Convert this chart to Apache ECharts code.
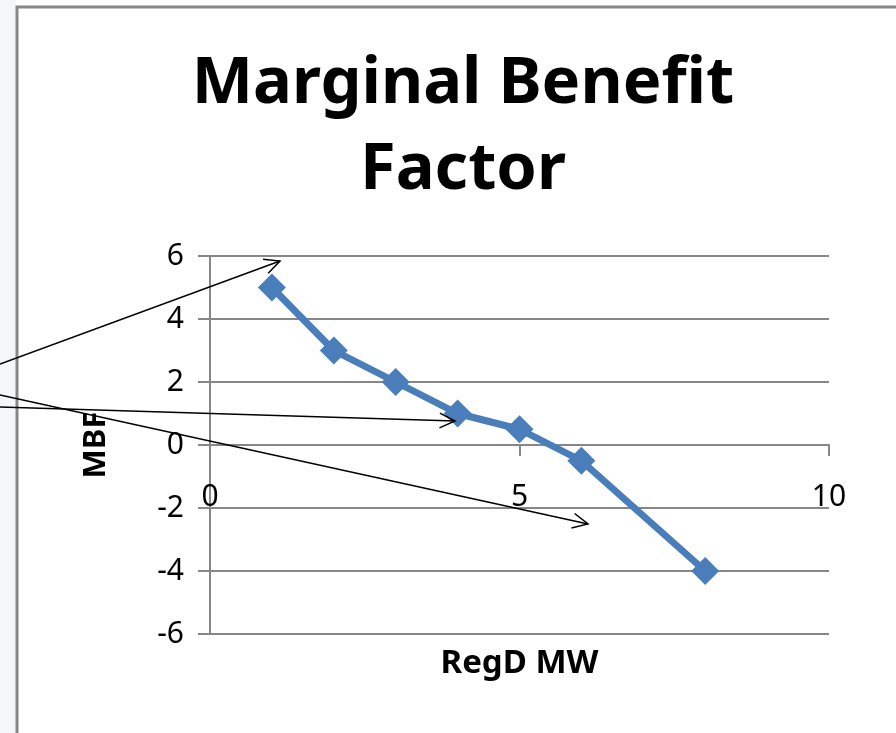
<!DOCTYPE html>
<html>
<head>
<meta charset="utf-8">
<script src="https://cdn.jsdelivr.net/npm/echarts@6/dist/echarts.min.js"></script>
<style>
  html, body { margin: 0; padding: 0; background: #fff; }
  #chart { width: 896px; height: 733px; }
</style>
</head>
<body>
<div id="chart"></div>
<script>
const regdMW = [1, 2, 3, 4, 5, 6, 8];
const mbf = [5, 3, 2, 1, 0.5, -0.5, -4];
const xTicks = [0, 5, 10];
const yTicks = [-6, -4, -2, 0, 2, 4, 6];

const chart = echarts.init(document.getElementById('chart'));
const gray = '#878787';
const font = 'Noto Sans, sans-serif';

// open arrow head helper for annotation lines
function arrow(x1, y1, x2, y2) {
  const a = Math.atan2(y2 - y1, x2 - x1);
  const L = 17, w = 0.45;
  return [
    { type: 'line', shape: { x1, y1, x2, y2 }, style: { stroke: '#000', lineWidth: 1.5 }, z: 100 },
    { type: 'polyline', shape: { points: [
      [x2 - L * Math.cos(a - w), y2 - L * Math.sin(a - w)],
      [x2, y2],
      [x2 - L * Math.cos(a + w), y2 - L * Math.sin(a + w)]
    ] }, style: { stroke: '#000', lineWidth: 1.5, fill: null }, z: 100 }
  ];
}

chart.setOption({
  backgroundColor: '#fff',
  animation: false,
  title: {
    text: 'Marginal Benefit\nFactor',
    left: 458,
    top: 36,
    textAlign: 'center',
    textStyle: { fontFamily: font, fontWeight: 'bold', fontSize: 65, lineHeight: 86, color: '#000' }
  },
  grid: { left: 210, right: 67, top: 256, bottom: 99, outerBoundsMode: 'none', containLabel: false },
  xAxis: {
    type: 'value',
    min: xTicks[0], max: xTicks[xTicks.length - 1], interval: 5,
    offset: -189, // axis sits on the y = 0 gridline
    name: 'RegD MW',
    nameLocation: 'middle',
    nameGap: 202,
    nameTextStyle: { fontFamily: font, fontWeight: 'bold', fontSize: 33, color: '#000' },
    axisLine: { onZero: false, lineStyle: { color: gray, width: 2 } },
    axisTick: { show: true, length: 11, lineStyle: { color: gray, width: 2 } },
    axisLabel: { margin: 37, fontFamily: font, fontSize: 30, color: '#000' },
    splitLine: { show: false }
  },
  yAxis: {
    type: 'value',
    min: yTicks[0], max: yTicks[yTicks.length - 1], interval: 2,
    name: 'MBF',
    nameLocation: 'middle',
    nameGap: 98,
    nameTextStyle: { fontFamily: font, fontWeight: 'bold', fontSize: 31, color: '#000' },
    axisLine: { show: true, lineStyle: { color: gray, width: 2 } },
    axisTick: { show: true, length: 12, lineStyle: { color: gray, width: 2 } },
    axisLabel: { margin: 26, fontFamily: font, fontSize: 30, color: '#000' },
    splitLine: { show: true, lineStyle: { color: gray, width: 2 } }
  },
  series: [{
    type: 'line',
    data: regdMW.map((x, i) => [x, mbf[i]]),
    symbol: 'diamond',
    symbolSize: 28,
    lineStyle: { color: '#4a7ebb', width: 7 },
    itemStyle: { color: '#4a7ebb' }
  }],
  graphic: [
    { type: 'rect', shape: { x: 0, y: 0, width: 16, height: 733 }, style: { fill: '#f4f7f8' }, z: -10 },
    { type: 'polyline', shape: { points: [[17, 733], [17, 7], [896, 7]] }, style: { stroke: gray, lineWidth: 3, fill: null }, z: 50 },
    ...arrow(0, 364, 280, 261),
    ...arrow(0, 407, 455, 421),
    ...arrow(0, 395, 588, 524)
  ]
});
</script>
</body>
</html>
